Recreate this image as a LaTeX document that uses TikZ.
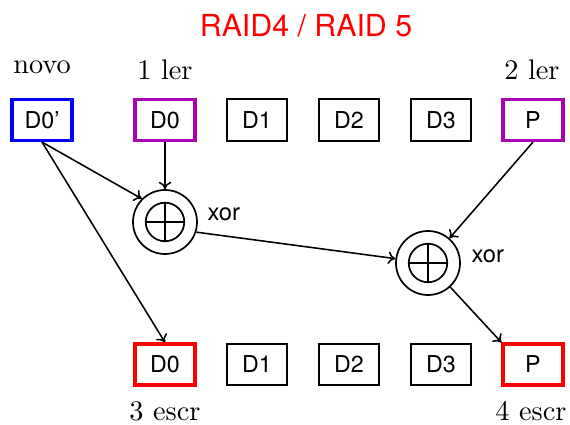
\documentclass[tikz,border=0pt]{standalone}
\usepackage{fontspec}
\setsansfont{TeX Gyre Heros}
\usetikzlibrary{arrows.meta}
\definecolor{readc}{RGB}{170,0,180}
\begin{document}
\begin{tikzpicture}[x=0.353pt,y=-0.353pt,
  disk/.style={draw, line width=0.7pt, minimum width=21.2pt, minimum height=14.5pt,
    inner sep=0pt, font=\sffamily\fontsize{8.2}{10}\selectfont},
  hot/.style={line width=1.1pt},
  lbl/.style={anchor=base, inner sep=0pt, font=\rmfamily},
  xorgate/.style={circle, draw, line width=0.6pt, minimum size=22.6pt, inner sep=0pt},
  flow/.style={-{To[length=2.6pt,width=4.4pt]}, line width=0.55pt},
  oplabel/.style={anchor=base west, inner sep=0pt, font=\sffamily\fontsize{8.4}{10}\selectfont}]
\useasboundingbox (0,0) rectangle (570,425);

% title
\node[anchor=base, inner sep=0pt, text=red, font=\sffamily\fontsize{10.7}{13}\selectfont]
  (title) at (306,37) {RAID4 / RAID 5};

% new block and the disk row being read
\node[disk, hot, draw=blue] (new) at (42,120) {D0'};
\node[disk, hot, draw=readc] (t0) at (165,120) {D0};
\node[disk] (t1) at (257,120) {D1};
\node[disk] (t2) at (349,120) {D2};
\node[disk] (t3) at (441,120) {D3};
\node[disk, hot, draw=readc] (tp) at (533,120) {P};

% disk row being written
\node[disk, hot, draw=red] (b0) at (165,364.5) {D0};
\node[disk] (b1) at (257,364.5) {D1};
\node[disk] (b2) at (349,364.5) {D2};
\node[disk] (b3) at (441,364.5) {D3};
\node[disk, hot, draw=red] (bp) at (533,364.5) {P};

% step labels
\node[lbl] (lnew) at (42,74) {novo};
\node[lbl] (l1) at (165,80) {1 ler};
\node[lbl] (l2) at (532,80) {2 ler};
\node[lbl] (l3) at (165,421) {3 escr};
\node[lbl] (l4) at (531,421) {4 escr};

% xor gates
\node[xorgate] (x1) at (165,222) {};
\node[xorgate] (x2) at (428,263) {};
\foreach \g in {x1,x2} {
  \draw[line width=0.6pt] (\g.center) circle[radius=6.8pt];
  \draw[line width=0.6pt] ([xshift=-6.8pt]\g.center) -- ([xshift=6.8pt]\g.center);
  \draw[line width=0.6pt] ([yshift=-6.8pt]\g.center) -- ([yshift=6.8pt]\g.center);
}
\node[oplabel] (o1) at (207,221) {xor};
\node[oplabel] (o2) at (471,263) {xor};

% data flow
\draw[flow] (new.south) -- (x1.north west);
\draw[flow] (new.south) -- (b0.north);
\draw[flow] (t0) -- (x1);
\draw[flow] (x1.-18) -- (x2);
\draw[flow] (tp.south) -- (x2);
\draw[flow] (x2) -- (bp.north west);
\end{tikzpicture}
\end{document}
